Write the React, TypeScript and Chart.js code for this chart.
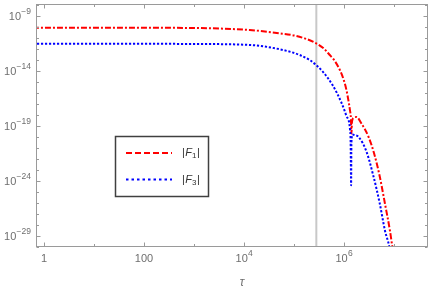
import React, { useEffect, useRef } from "react";
import { Chart, registerables } from "chart.js";

Chart.register(...registerables);

// |F1| (red, dash-dot)
const tauF1 = [0.6, 1, 10, 100, 1000, 1.3e4, 5.2e4, 1.0e5, 1.6e5, 2.5e5, 4.0e5, 5.2e5, 6.3e5, 8.3e5, 1.0e6, 1.12e6, 1.26e6, 1.32e6, 1.38e6, 1.41e6, 1.45e6, 1.58e6, 1.78e6, 2.24e6, 3.1e6, 4.0e6, 5.2e6, 6.6e6, 8.3e6, 9.3e6, 1.05e7];
const f1 = [8.1e-11, 8.1e-11, 8.1e-11, 8.0e-11, 7.6e-11, 5.0e-11, 2.5e-11, 1.6e-11, 8.9e-12, 4.0e-12, 1.0e-12, 2.7e-13, 1.0e-13, 1.15e-14, 1.26e-15, 1.8e-16, 1.0e-17, 2.5e-18, 4.0e-19, 2.0e-20, 2.5e-19, 5.6e-19, 6.3e-19, 1.6e-19, 1.0e-20, 3.2e-22, 2.5e-24, 8.9e-27, 3.2e-29, 1.0e-30, 3.0e-32];

// |F3| (blue, dotted)
const tauF3 = [0.6, 1, 10, 100, 1000, 1.3e4, 5.2e4, 1.3e5, 2.1e5, 2.8e5, 3.8e5, 6.0e5, 8.9e5, 1.12e6, 1.32e6, 1.36e6, 1.39e6, 1.41e6, 1.48e6, 1.66e6, 1.95e6, 2.8e6, 3.9e6, 5.2e6, 6.6e6, 8.1e6, 9.5e6];
const f3 = [2.8e-12, 2.8e-12, 2.8e-12, 2.8e-12, 2.7e-12, 2.2e-12, 8.9e-13, 2.7e-13, 8.9e-14, 3.2e-14, 7.9e-15, 4.5e-16, 1.26e-17, 7.9e-19, 5.0e-20, 3.2e-21, 4.0e-25, 3.2e-21, 1.6e-20, 1.4e-20, 1.0e-20, 5.0e-22, 2.5e-24, 8.9e-27, 3.2e-29, 1.0e-30, 1.0e-32];

// vertical marker
const markerTau = 2.8e5;

// axes
const xMin = 0.69;
const xMax = 4.8e7;
const yMin = 1e-30;
const yMax = 1.15e-8;

const xMajorTicks = [1, 100, 1e4, 1e6];
const xMajorBase = ["1", "100", "10", "10"];
const xMajorExp = ["", "", "4", "6"];
const xMinorTicks = [10, 1000, 1e5, 1e7];

const yMajorTicks = [1e-9, 1e-14, 1e-19, 1e-24, 1e-29];
const yMajorBase = ["10", "10", "10", "10", "10"];
const yMajorExp = ["\u22129", "\u221214", "\u221219", "\u221224", "\u221229"];
const yMinorTicks = [1e-8, 1e-10, 1e-11, 1e-12, 1e-13, 1e-15, 1e-16, 1e-17, 1e-18, 1e-20, 1e-21, 1e-22, 1e-23, 1e-25, 1e-26, 1e-27, 1e-28, 1e-30];

const legendBase = ["F", "F"];
const legendSub = ["1", "3"];
const xTitle = "\u03c4";

const RED = "#ff0000";
const BLUE = "#0000ff";
const FRAME = "#9a9a9a";
const TICKTXT = "#6e6e6e";
const FONT = "'Liberation Sans', Arial, sans-serif";

const framePlugin = {
  id: "frameTicks",
  afterDatasetsDraw(chart: any) {
    const ctx = chart.ctx;
    const a = chart.chartArea;
    const xs = chart.scales.x;
    const ys = chart.scales.y;
    ctx.save();
    ctx.strokeStyle = FRAME;
    ctx.lineWidth = 1;
    const L = Math.round(a.left) + 0.5;
    const R = Math.round(a.right) - 0.5;
    const T = Math.round(a.top) + 0.5;
    const B = Math.round(a.bottom) - 0.5;
    ctx.strokeRect(L, T, R - L, B - T);
    ctx.beginPath();
    const xt = (v: number, len: number) => {
      const p = Math.round(xs.getPixelForValue(v)) + 0.5;
      ctx.moveTo(p, B);
      ctx.lineTo(p, B - len);
      ctx.moveTo(p, T);
      ctx.lineTo(p, T + len);
    };
    const yt = (v: number, len: number) => {
      const p = Math.round(ys.getPixelForValue(v)) + 0.5;
      ctx.moveTo(L, p);
      ctx.lineTo(L + len, p);
      ctx.moveTo(R, p);
      ctx.lineTo(R - len, p);
    };
    xMajorTicks.forEach((v) => xt(v, 4));
    xMinorTicks.forEach((v) => xt(v, 2.5));
    yMajorTicks.forEach((v) => yt(v, 4));
    yMinorTicks.forEach((v) => yt(v, 2.5));
    ctx.stroke();

    // tick labels
    ctx.fillStyle = TICKTXT;
    ctx.textBaseline = "middle";
    const baseFont = "11px " + FONT;
    const expFont = "8.5px " + FONT;
    xMajorTicks.forEach((v, i) => {
      const p = xs.getPixelForValue(v);
      ctx.font = baseFont;
      const wb = ctx.measureText(xMajorBase[i]).width;
      ctx.font = expFont;
      const we = xMajorExp[i] ? ctx.measureText(xMajorExp[i]).width : 0;
      const start = p - (wb + we) / 2;
      const yc = a.bottom + 12;
      ctx.textAlign = "left";
      ctx.font = baseFont;
      ctx.fillText(xMajorBase[i], start, yc);
      if (xMajorExp[i]) {
        ctx.font = expFont;
        ctx.fillText(xMajorExp[i], start + wb + 0.3, yc - 5);
      }
    });
    yMajorTicks.forEach((v, i) => {
      const p = ys.getPixelForValue(v);
      ctx.font = expFont;
      const we = ctx.measureText(yMajorExp[i]).width;
      const right = a.left - 5;
      ctx.textAlign = "left";
      ctx.fillText(yMajorExp[i], right - we, p - 4);
      ctx.font = baseFont;
      const wb = ctx.measureText(yMajorBase[i]).width;
      ctx.fillText(yMajorBase[i], right - we - wb - 0.3, p + 1);
    });

    // axis title
    ctx.font = "italic 12px " + FONT;
    ctx.textAlign = "center";
    ctx.fillText(xTitle, xs.getPixelForValue(1.1e4) - 4, a.bottom + 36);
    ctx.restore();
  },
};

const legendPlugin = {
  id: "boxLegend",
  afterDraw(chart: any) {
    const ctx = chart.ctx;
    ctx.save();
    const bx = 115.5, by = 136.5, bw = 93, bh = 60;
    ctx.fillStyle = "#ffffff";
    ctx.fillRect(bx, by, bw, bh);
    ctx.strokeStyle = "#404040";
    ctx.lineWidth = 1.5;
    ctx.strokeRect(bx, by, bw, bh);
    const rows = [
      { y: 153, color: RED, dash: [6, 3] },
      { y: 179.5, color: BLUE, dash: [2.5, 3] },
    ];
    rows.forEach((r, i) => {
      ctx.strokeStyle = r.color;
      ctx.lineWidth = 2;
      ctx.setLineDash(r.dash);
      ctx.beginPath();
      ctx.moveTo(126, r.y);
      ctx.lineTo(172, r.y);
      ctx.stroke();
      ctx.setLineDash([]);
      ctx.fillStyle = "#333333";
      ctx.textBaseline = "middle";
      ctx.textAlign = "left";
      let x = 182;
      ctx.font = "11px " + FONT;
      ctx.fillText("|", x, r.y);
      x += ctx.measureText("|").width + 0.5;
      ctx.font = "italic 11px " + FONT;
      ctx.fillText(legendBase[i], x, r.y);
      x += ctx.measureText(legendBase[i]).width;
      ctx.font = "8px " + FONT;
      ctx.fillText(legendSub[i], x, r.y + 3);
      x += ctx.measureText(legendSub[i]).width + 0.5;
      ctx.font = "11px " + FONT;
      ctx.fillText("|", x, r.y);
    });
    ctx.restore();
  },
};

export default function App() {
  const ref = useRef<HTMLCanvasElement | null>(null);
  useEffect(() => {
    if (!ref.current) return;
    const chart = new Chart(ref.current, {
      type: "line",
      data: {
        datasets: [
          {
            label: "|F1|",
            data: tauF1.map((t, i) => ({ x: t, y: f1[i] })),
            borderColor: RED,
            borderWidth: 2,
            borderDash: [6, 2, 2, 2],
            pointRadius: 0,
            fill: false,
            cubicInterpolationMode: "monotone",
            order: 1,
          },
          {
            label: "|F3|",
            data: tauF3.map((t, i) => ({ x: t, y: f3[i] })),
            borderColor: BLUE,
            borderWidth: 2,
            borderDash: [2.2, 1.8],
            pointRadius: 0,
            fill: false,
            cubicInterpolationMode: "monotone",
            order: 0,
          },
          {
            label: "marker",
            data: [
              { x: markerTau, y: 1e-40 },
              { x: markerTau, y: 1e-5 },
            ],
            borderColor: "#c8c8c8",
            borderWidth: 2,
            pointRadius: 0,
            fill: false,
            order: 5,
          },
        ],
      },
      options: {
        responsive: false,
        animation: false,
        devicePixelRatio: 1,
        layout: { padding: { left: 36, top: 4, right: 8, bottom: 47 } },
        plugins: { legend: { display: false }, tooltip: { enabled: false } },
        scales: {
          x: { type: "logarithmic", min: xMin, max: xMax, display: false },
          y: { type: "logarithmic", min: yMin, max: yMax, display: false },
        },
      } as any,
      plugins: [framePlugin, legendPlugin],
    });
    return () => chart.destroy();
  }, []);
  return (
    <div style={{ position: "absolute", left: 0, top: 0, width: 436, height: 294, background: "#fff" }}>
      <canvas ref={ref} width={436} height={294} />
    </div>
  );
}
